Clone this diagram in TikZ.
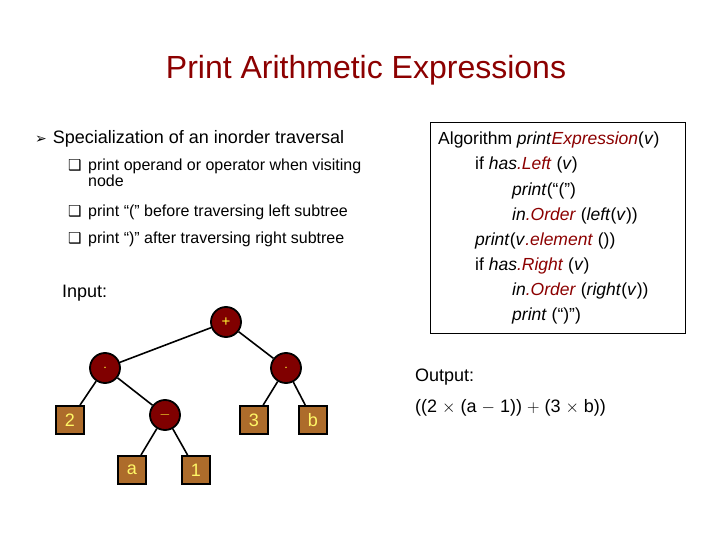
\documentclass[tikz,border=0pt]{standalone}
\usepackage{fontspec}
\setmainfont{Liberation Sans}
\newfontfamily\djv{DejaVu Sans}
\begin{document}
\begin{tikzpicture}[x=1pt,y=-1pt,
 op/.style={circle,draw=black,line width=1.8pt,fill=red!50!black,minimum size=30pt,inner sep=0pt,text=yellow!80!white,font=\fontsize{15}{15}\selectfont},
 leaf/.style={rectangle,draw=black,line width=1.8pt,fill=brown!80!orange!85!black,minimum size=28pt,inner sep=0pt,text=yellow!60!white,font=\fontsize{18}{18}\selectfont},
 edge/.style={line width=1.6pt},
 txt/.style={anchor=west,inner sep=0pt,font=\fontsize{18}{20}\selectfont},
 sub/.style={anchor=west,inner sep=0pt,font=\fontsize{16}{16}\selectfont,align=left}]
\useasboundingbox (0,0) rectangle (720,540);
\fill[white] (0,0) rectangle (720,540);
\node[font=\fontsize{32}{32}\selectfont,text=red!55!black] (title) at (366,70) {Print Arithmetic Expressions};
\node[txt] (b1) at (35,139) {{\djv\fontsize{14}{14}\selectfont ➢}\hspace{6pt}Specialization of an inorder traversal};
\node[sub,anchor=north west] (s1) at (68,159) {\makebox[20pt][l]{{\djv\fontsize{15}{15}\selectfont ❑}}print operand or operator when visiting\\\hspace{20pt}node};
\node[sub] (s2) at (68,212) {\makebox[20pt][l]{{\djv\fontsize{15}{15}\selectfont ❑}}print ``('' before traversing left subtree};
\node[sub] (s3) at (68,239) {\makebox[20pt][l]{{\djv\fontsize{15}{15}\selectfont ❑}}print ``)'' after traversing right subtree};
\node[txt] (inp) at (62,293) {Input:};
\node[txt] (outp) at (415,377) {Output:};
\node[txt] (res) at (415,408) {((2 $\times$ (a $-$ 1)) $+$ (3 $\times$ b))};
\draw[line width=0.8pt] (430,122) rectangle (685,333);
\node[txt,anchor=north west,font=\fontsize{17.5}{25.1}\selectfont,align=left] (alg) at (438,132) {Algorithm \textit{print}\textcolor{red!55!black}{\textit{Expression}}(\textit{v})\\
\hspace{37pt}if \textit{has}\textcolor{red!55!black}{\textit{.Left}} (\textit{v})\\
\hspace{74pt}\textit{print}(``('')\\
\hspace{74pt}\textit{in}\textcolor{red!55!black}{\textit{.Order}} (\textit{left}(\textit{v}))\\
\hspace{37pt}\textit{print}(\textit{v}\textcolor{red!55!black}{\textit{.element}} ())\\
\hspace{37pt}if \textit{has}\textcolor{red!55!black}{\textit{.Right}} (\textit{v})\\
\hspace{74pt}\textit{in}\textcolor{red!55!black}{\textit{.Order}} (\textit{right}(\textit{v}))\\
\hspace{74pt}\textit{print} (``)'')};
\node[op] (plus) at (226,322) {+};
\node[op] (m1) at (105,368) {$\cdot$};
\node[op] (m2) at (286,368) {$\cdot$};
\node[op] (minus) at (165,415) {$-$};
\node[leaf] (two) at (70,420) {2};
\node[leaf] (three) at (254,420) {3};
\node[leaf] (b) at (313,420) {b};
\node[leaf] (a) at (132,470) {a};
\node[leaf] (one) at (196,470) {1};
\draw[edge] (plus) -- (m1); \draw[edge] (plus) -- (m2);
\draw[edge] (m1) -- (two); \draw[edge] (m1) -- (minus);
\draw[edge] (m2) -- (three); \draw[edge] (m2) -- (b);
\draw[edge] (minus) -- (a); \draw[edge] (minus) -- (one);
\end{tikzpicture}
\end{document}
